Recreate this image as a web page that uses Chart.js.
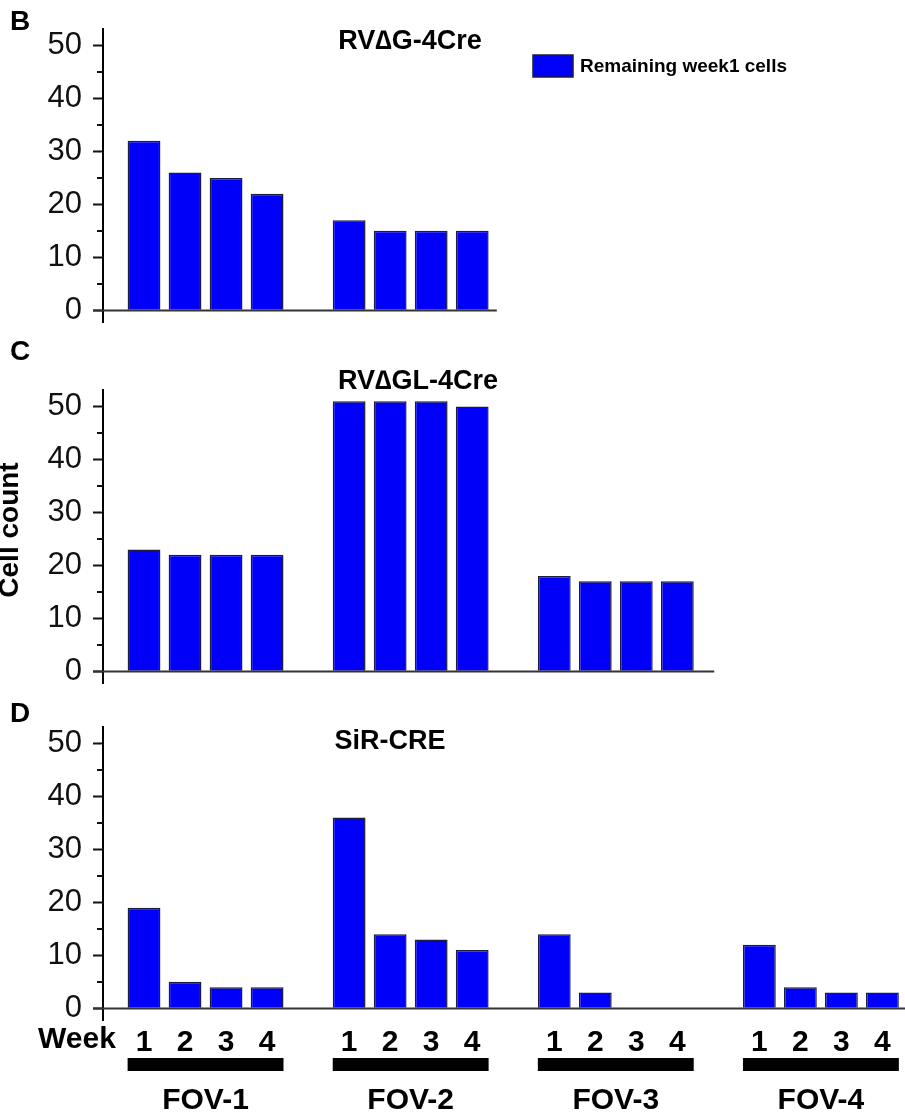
<!DOCTYPE html>
<html>
<head>
<meta charset="utf-8">
<script src="https://cdn.jsdelivr.net/npm/chart.js@4.4.1/dist/chart.umd.min.js"></script>
<style>
  html, body { margin: 0; padding: 0; background: #fff; }
  #wrap { position: relative; width: 905px; height: 1115px; overflow: hidden; }
  canvas { position: absolute; left: 0; }
</style>
</head>
<body>
<div id="wrap">
  <canvas id="panelB" width="905" height="330" style="top:0"></canvas>
  <canvas id="panelC" width="905" height="360" style="top:330px"></canvas>
  <canvas id="panelD" width="905" height="425" style="top:690px"></canvas>
</div>
<script>
// values are listed FOV by FOV, weeks 1-4 inside each FOV
const weekLabels = ['1', '2', '3', '4'];
const fovLabels = ['FOV-1', 'FOV-2', 'FOV-3', 'FOV-4'];
const rvdgCounts = [32, 26, 25, 22, 17, 15, 15, 15];
const rvdglCounts = [23, 22, 22, 22, 51, 51, 51, 50, 18, 17, 17, 17];
const sirCounts = [19, 5, 4, 4, 36, 14, 13, 11, 14, 3, 0, 0, 12, 4, 3, 3];
const yTicks = [0, 5, 10, 15, 20, 25, 30, 35, 40, 45, 50];
const seriesLabel = 'Remaining week1 cells';

const FONT = "'Liberation Sans', Arial, sans-serif";
const BLUE = '#0000fa';
const EDGE = '#1c1c40';

// one empty slot between FOV groups
function toPoints(counts) {
  return counts.map((v, i) => ({ x: Math.floor(i / 4) * 5 + (i % 4), y: v }));
}

const panelDecor = {
  id: 'panelDecor',
  afterDatasetsDraw(chart, args, opts) {
    const ctx = chart.ctx;
    const xs = chart.scales.x;
    const ys = chart.scales.y;
    ctx.save();

    // minor ticks on y axis
    ctx.strokeStyle = '#111';
    ctx.lineWidth = 2;
    yTicks.filter(v => v % 10 !== 0).forEach(v => {
      const py = Math.round(ys.getPixelForValue(v));
      ctx.beginPath();
      ctx.moveTo(ys.right - 6, py);
      ctx.lineTo(ys.right, py);
      ctx.stroke();
    });

    // zero line
    const y0 = Math.round(ys.getPixelForValue(0)) + 0.5;
    ctx.strokeStyle = '#333';
    ctx.lineWidth = 2;
    ctx.beginPath();
    ctx.moveTo(ys.right - 10, y0);
    ctx.lineTo(xs.getPixelForValue(opts.baselineEnd), y0);
    ctx.stroke();

    ctx.fillStyle = '#000';
    ctx.textBaseline = 'middle';

    // panel letter
    ctx.font = 'bold 28px ' + FONT;
    ctx.textAlign = 'left';
    ctx.fillText(opts.letter, 10, opts.letterY);

    // title
    ctx.font = 'bold 27px ' + FONT;
    ctx.textAlign = 'center';
    ctx.fillText(opts.title, opts.titleX, opts.titleY);

    if (opts.legend) {
      ctx.fillStyle = BLUE;
      ctx.fillRect(533, 55, 40, 22);
      ctx.strokeStyle = EDGE;
      ctx.lineWidth = 1.5;
      ctx.strokeRect(533, 55, 40, 22);
      ctx.fillStyle = '#000';
      ctx.font = 'bold 19px ' + FONT;
      ctx.textAlign = 'left';
      ctx.fillText(chart.data.datasets[0].label, 580, 67);
    }

    if (opts.yTitle) {
      ctx.save();
      ctx.translate(18, 200);
      ctx.rotate(-Math.PI / 2);
      ctx.font = 'bold 28px ' + FONT;
      ctx.textAlign = 'center';
      ctx.textBaseline = 'alphabetic';
      ctx.fillText(opts.yTitle, 0, 0);
      ctx.restore();
    }

    if (opts.groups) {
      ctx.font = 'bold 30px ' + FONT;
      ctx.textAlign = 'center';
      ctx.fillText('Week', 77, 350);
      fovLabels.forEach((name, g) => {
        const left = xs.getPixelForValue(g * 5 - 0.4);
        const right = xs.getPixelForValue(g * 5 + 3.4);
        ctx.fillRect(left, 368, right - left, 13);
        ctx.fillText(name, xs.getPixelForValue(g * 5 + 1.5), 411);
      });
    }
    ctx.restore();
  }
};

function makePanel(id, counts, decor, pad, showWeeks) {
  const xTickValues = counts.map((v, i) => Math.floor(i / 4) * 5 + (i % 4));
  return new Chart(document.getElementById(id), {
    type: 'bar',
    data: {
      datasets: [{
        label: seriesLabel,
        data: toPoints(counts),
        backgroundColor: BLUE,
        borderColor: EDGE,
        borderWidth: 1.5,
        barPercentage: 0.8,
        categoryPercentage: 1
      }]
    },
    options: {
      responsive: false,
      animation: false,
      layout: { padding: pad },
      plugins: {
        legend: { display: false },
        tooltip: { enabled: false },
        panelDecor: decor
      },
      scales: {
        x: {
          type: 'linear',
          min: -1,
          max: 18.55,
          offset: false,
          display: showWeeks,
          grid: { display: false, drawTicks: false },
          border: { display: false },
          afterBuildTicks: (scale) => {
            scale.ticks = xTickValues.map(v => ({ value: v }));
          },
          afterFit: (scale) => {
            scale.height = showWeeks ? 95 : 0;
            scale.paddingLeft = 0;
            scale.paddingRight = 0;
          },
          ticks: {
            autoSkip: false,
            maxRotation: 0,
            padding: 5,
            color: '#000',
            font: { family: FONT, size: 30, weight: 'bold' },
            callback: (value) => weekLabels[value % 5] || ''
          }
        },
        y: {
          min: -2.2,
          max: 53.1,
          afterBuildTicks: (scale) => {
            scale.ticks = yTicks.map(v => ({ value: v }));
          },
          afterFit: (scale) => {
            scale.width = 103;
            scale.paddingTop = 0;
            scale.paddingBottom = 0;
          },
          border: { display: true, color: '#000', width: 2 },
          grid: {
            drawOnChartArea: false,
            tickLength: 10,
            tickWidth: 2,
            tickColor: (c) => (c.tick && c.tick.value % 10 === 0) ? '#111' : 'rgba(0,0,0,0)'
          },
          ticks: {
            autoSkip: false,
            padding: 11,
            color: '#111',
            font: { family: FONT, size: 31 },
            callback: (value) => value % 10 === 0 ? value : ''
          }
        }
      }
    },
    plugins: [panelDecor]
  });
}

makePanel('panelB', rvdgCounts,
  { letter: 'B', letterY: 22, title: 'RV\u2206G-4Cre', titleX: 410, titleY: 42, baselineEnd: 8.6, legend: true },
  { top: 29, bottom: 8, left: 0, right: 0 }, false);

makePanel('panelC', rvdglCounts,
  { letter: 'C', letterY: 22, title: 'RV\u2206GL-4Cre', titleX: 418, titleY: 52, baselineEnd: 13.9, yTitle: 'Cell count' },
  { top: 60, bottom: 7, left: 0, right: 0 }, false);

makePanel('panelD', sirCounts,
  { letter: 'D', letterY: 24, title: 'SiR-CRE', titleX: 390, titleY: 52, baselineEnd: 18.6, groups: true },
  { top: 37, bottom: 0, left: 0, right: 0 }, true);
</script>
</body>
</html>
